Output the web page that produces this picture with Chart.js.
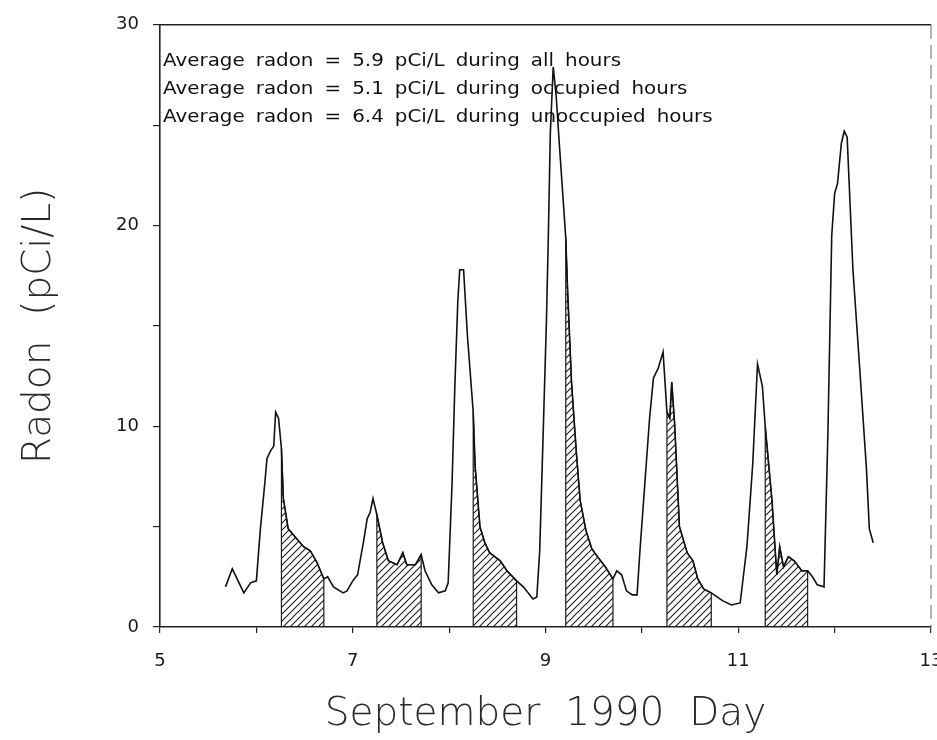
<!DOCTYPE html>
<html>
<head>
<meta charset="utf-8">
<script src="https://cdn.jsdelivr.net/npm/chart.js@4.4.1/dist/chart.umd.min.js"></script>
<style>
  html, body { margin: 0; padding: 0; background: #fff; }
  canvas { display: block; }
</style>
</head>
<body>
<canvas id="radon-chart" width="937" height="740"></canvas>
<script>
// time (day of September 1990) and radon (pCi/L)
const days = [
  5.68, 5.75, 5.87, 5.94, 6.00, 6.04, 6.09, 6.11, 6.15, 6.18, 6.20, 6.23,
  6.26, 6.28, 6.33, 6.40, 6.49, 6.56, 6.63, 6.70, 6.74, 6.80, 6.90, 6.94,
  7.00, 7.05, 7.11, 7.15, 7.18, 7.21, 7.25, 7.31, 7.37, 7.46, 7.52, 7.56,
  7.65, 7.71, 7.75, 7.82, 7.89, 7.96, 7.99, 8.03, 8.06, 8.09, 8.11, 8.15,
  8.19, 8.25, 8.27, 8.32, 8.37, 8.42, 8.53, 8.60, 8.70, 8.77, 8.87, 8.91,
  8.94, 8.97, 9.01, 9.03, 9.05, 9.08, 9.11, 9.15, 9.21, 9.23, 9.27, 9.32,
  9.36, 9.42, 9.48, 9.54, 9.62, 9.70, 9.74, 9.79, 9.84, 9.90, 9.95, 9.98,
  10.03, 10.08, 10.12, 10.17, 10.22, 10.26, 10.29, 10.31, 10.34, 10.39, 10.47, 10.53,
  10.58, 10.64, 10.72, 10.78, 10.84, 10.93, 11.02, 11.09, 11.15, 11.20, 11.25, 11.28,
  11.35, 11.40, 11.43, 11.47, 11.52, 11.58, 11.66, 11.72, 11.77, 11.82, 11.89, 11.93,
  11.97, 12.00, 12.03, 12.07, 12.10, 12.13, 12.19, 12.26, 12.33, 12.36, 12.40
];
const radon = [
  2.0, 2.9, 1.7, 2.2, 2.3, 4.8, 7.3, 8.4, 8.8, 9.0, 10.7, 10.4,
  8.9, 6.4, 4.9, 4.5, 4.0, 3.8, 3.2, 2.4, 2.5, 2.0, 1.7, 1.8,
  2.3, 2.6, 4.2, 5.4, 5.7, 6.4, 5.6, 4.2, 3.3, 3.1, 3.7, 3.1,
  3.1, 3.6, 2.8, 2.1, 1.7, 1.8, 2.2, 7.1, 12.1, 16.2, 17.8, 17.8,
  14.5, 10.7, 8.0, 5.0, 4.2, 3.7, 3.3, 2.8, 2.3, 2.0, 1.4, 1.5,
  3.8, 8.7, 15.3, 19.6, 24.6, 27.9, 26.5, 23.6, 19.4, 16.7, 12.2, 8.7,
  6.3, 4.8, 3.9, 3.5, 3.0, 2.4, 2.8, 2.6, 1.8, 1.6, 1.6, 3.8,
  7.1, 10.4, 12.4, 12.9, 13.7, 10.7, 10.4, 12.2, 10.1, 5.0, 3.7, 3.3,
  2.4, 1.9, 1.7, 1.5, 1.3, 1.1, 1.2, 4.0, 8.1, 13.1, 12.0, 10.0,
  6.3, 2.6, 4.0, 3.0, 3.5, 3.3, 2.8, 2.8, 2.5, 2.1, 2.0, 9.6,
  19.5, 21.6, 22.1, 24.1, 24.7, 24.4, 17.8, 12.9, 7.9, 4.9, 4.2
];

// hatched (occupied) periods
const hatchStart = [6.26, 7.25, 8.25, 9.21, 10.26, 11.28];
const hatchEnd   = [6.70, 7.71, 8.70, 9.70, 10.72, 11.72];

const xLabels = [5, 7, 9, 11, 13];
const yLabels = [0, 10, 20, 30];

const notes = [
  'Average radon = 5.9 pCi/L during all hours',
  'Average radon = 5.1 pCi/L during occupied hours',
  'Average radon = 6.4 pCi/L during unoccupied hours'
];

const canvas = document.getElementById('radon-chart');
const ctx = canvas.getContext('2d');

function hatchPattern() {
  const c = document.createElement('canvas');
  c.width = 7; c.height = 7;
  const g = c.getContext('2d');
  g.strokeStyle = '#1c1c1c';
  g.lineWidth = 1.1;
  g.beginPath();
  g.moveTo(-1, 8); g.lineTo(8, -1);
  g.moveTo(-1, 1); g.lineTo(1, -1);
  g.moveTo(6, 8); g.lineTo(8, 6);
  g.stroke();
  return ctx.createPattern(c, 'repeat');
}
const hatch = hatchPattern();

const points = days.map((d, i) => ({ x: d, y: radon[i] }));

const hatchSets = hatchStart.map((s, k) => {
  const e = hatchEnd[k];
  const inside = points.filter(p => p.x >= s - 1e-9 && p.x <= e + 1e-9);
  return {
    data: [{ x: s, y: 0 }, ...inside, { x: e, y: 0 }],
    borderColor: '#1a1a1a',
    borderWidth: 1.2,
    backgroundColor: hatch,
    fill: 'origin',
    pointRadius: 0,
    tension: 0
  };
});

const framePlugin = {
  id: 'frameAndNotes',
  afterDraw(chart) {
    const { ctx, chartArea } = chart;
    ctx.save();
    ctx.strokeStyle = '#222';
    ctx.lineWidth = 1.5;
    ctx.beginPath();
    ctx.moveTo(chartArea.left, chartArea.top);
    ctx.lineTo(chartArea.right, chartArea.top);
    ctx.stroke();
    ctx.setLineDash([14, 6]);
    ctx.strokeStyle = '#666';
    ctx.lineWidth = 1;
    ctx.beginPath();
    ctx.moveTo(chartArea.right, chartArea.top);
    ctx.lineTo(chartArea.right, chartArea.bottom);
    ctx.stroke();
    ctx.setLineDash([]);

    ctx.font = '17px "DejaVu Sans"';
    ctx.fillStyle = '#111';
    ctx.textBaseline = 'middle';
    ctx.textAlign = 'left';
    ctx.wordSpacing = '4px';
    const sx = 458 / ctx.measureText(notes[0]).width;
    notes.forEach((t, i) => {
      ctx.save();
      ctx.translate(chartArea.left + 3, chartArea.top + 37 + i * 28);
      ctx.scale(sx, 1);
      ctx.fillText(t, 0, 0);
      ctx.restore();
    });
    ctx.restore();
  }
};

const radonChart = new Chart(ctx, {
  type: 'line',
  data: {
    datasets: [
      {
        data: points,
        borderColor: '#111',
        borderWidth: 1.6,
        pointRadius: 0,
        fill: false,
        tension: 0
      },
      ...hatchSets
    ]
  },
  options: {
    responsive: false,
    animation: false,
    layout: { padding: { top: 20, right: 6, left: 0, bottom: 0 } },
    plugins: {
      legend: { display: false },
      tooltip: { enabled: false }
    },
    scales: {
      x: {
        type: 'linear',
        min: 5,
        max: 13,
        afterFit(s) { s.height = 113; s.paddingRight = 0; s.paddingLeft = 0; },
        ticks: {
          stepSize: 1,
          padding: 18,
          maxRotation: 0,
          color: '#1a1a1a',
          font: { family: 'DejaVu Sans', size: 18 },
          callback: v => xLabels.includes(v) ? String(v) : ''
        },
        grid: { drawOnChartArea: false, tickLength: 6, color: '#222', lineWidth: 1.2 },
        border: { color: '#222', width: 1.6 },
        title: {
          display: true,
          text: 'September  1990  Day',
          color: '#2a2a2a',
          font: { family: 'DejaVu Sans', size: 39, weight: 200 },
          padding: { top: 0, bottom: 2 }
        }
      },
      y: {
        min: 0,
        max: 30,
        afterFit(s) { s.width = 160; },
        ticks: {
          stepSize: 5,
          padding: 14,
          color: '#1a1a1a',
          font: { family: 'DejaVu Sans', size: 18 },
          callback: v => yLabels.includes(v) ? String(v) : ''
        },
        grid: { drawOnChartArea: false, tickLength: 7, color: '#222', lineWidth: 1.2 },
        border: { color: '#222', width: 1.6 },
        title: {
          display: true,
          text: 'Radon  (pCi/L)',
          color: '#2a2a2a',
          font: { family: 'DejaVu Sans', size: 39, weight: 200 },
          padding: { top: 16, bottom: 0 }
        }
      }
    }
  },
  plugins: [framePlugin]
});
</script>
</body>
</html>
